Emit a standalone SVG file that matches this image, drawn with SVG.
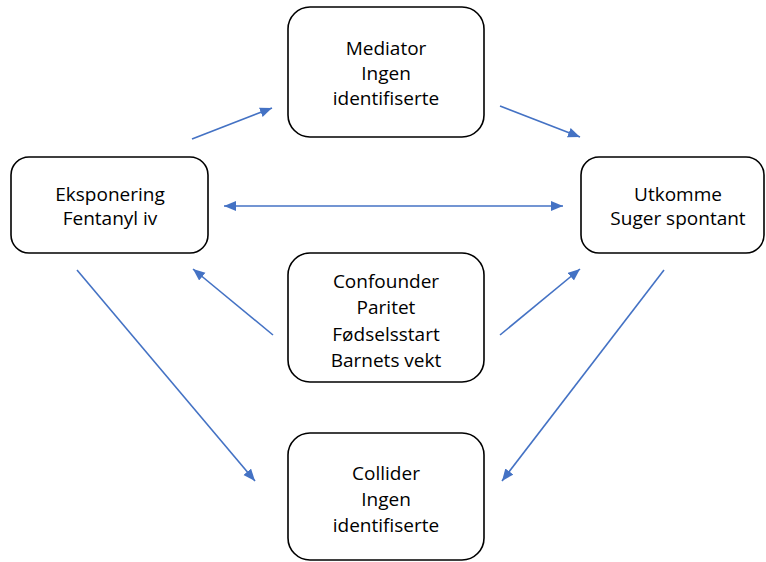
<svg xmlns="http://www.w3.org/2000/svg" width="766" height="562" viewBox="0 0 766 562">
<style>
.box{fill:#fff;stroke:#000;stroke-width:1.6}
.lbl{font-family:"Open Sans","Liberation Sans",sans-serif;font-size:19px;fill:#000;text-anchor:middle}
.edge{stroke:#4472C4;stroke-width:1.6;fill:none;marker-end:url(#ah)}
</style>
<defs>
<marker id="ah" markerUnits="userSpaceOnUse" markerWidth="14" markerHeight="12" refX="12" refY="5" orient="auto">
<path d="M0,0 L12,5 L0,10 Z" fill="#4472C4"/>
</marker>
<marker id="ahs" markerUnits="userSpaceOnUse" markerWidth="14" markerHeight="12" refX="0" refY="5" orient="auto">
<path d="M12,0 L0,5 L12,10 Z" fill="#4472C4"/>
</marker>
</defs>
<rect width="766" height="562" fill="#fff"/>
<g id="connectors">
<line class="edge" x1="192" y1="139" x2="272" y2="108"/>
<line class="edge" x1="500" y1="106" x2="580" y2="137"/>
<line class="edge" x1="224" y1="206" x2="563" y2="206" marker-start="url(#ahs)"/>
<line class="edge" x1="273" y1="335" x2="193" y2="269"/>
<line class="edge" x1="500" y1="335" x2="580" y2="269"/>
<line class="edge" x1="77" y1="270" x2="255" y2="481"/>
<line class="edge" x1="664" y1="270" x2="502" y2="481"/>
</g>
<g id="mediator">
<rect class="box" x="288" y="7" width="196" height="130" rx="22"/>
<text class="lbl" x="386" y="55">Mediator</text>
<text class="lbl" x="386" y="80">Ingen</text>
<text class="lbl" x="386" y="105">identifiserte</text>
</g>
<g id="eksponering">
<rect class="box" x="11" y="157" width="197" height="96" rx="18"/>
<text class="lbl" x="110" y="201">Eksponering</text>
<text class="lbl" x="110" y="225">Fentanyl iv</text>
</g>
<g id="utkomme">
<rect class="box" x="581" y="157" width="183" height="96" rx="18"/>
<text class="lbl" x="678" y="201">Utkomme</text>
<text class="lbl" x="678" y="225">Suger spontant</text>
</g>
<g id="confounder">
<rect class="box" x="288" y="253" width="196" height="129" rx="22"/>
<text class="lbl" x="386" y="288">Confounder</text>
<text class="lbl" x="386" y="314">Paritet</text>
<text class="lbl" x="386" y="341">Fødselsstart</text>
<text class="lbl" x="386" y="367">Barnets vekt</text>
</g>
<g id="collider">
<rect class="box" x="288" y="433" width="196" height="127" rx="22"/>
<text class="lbl" x="386" y="480">Collider</text>
<text class="lbl" x="386" y="506">Ingen</text>
<text class="lbl" x="386" y="532">identifiserte</text>
</g>
</svg>
